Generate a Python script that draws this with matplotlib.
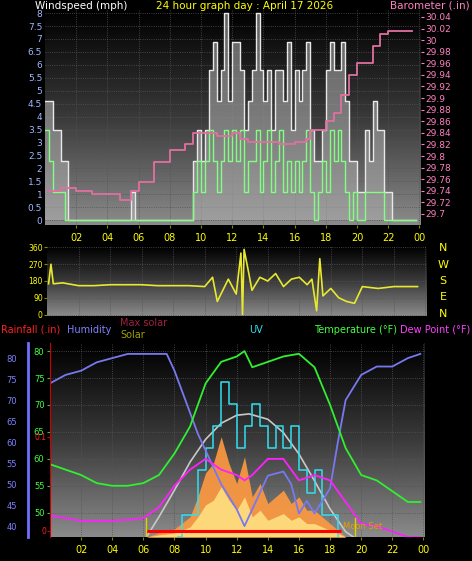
import numpy as np
import matplotlib
matplotlib.use("Agg")
import matplotlib.pyplot as plt
from matplotlib.colors import LinearSegmentedColormap

W, H = 472, 561
# ---------------- data ----------------
gust = [4.6,4.6,3.5,3.5,2.3,2.3,0,0] + [0]*14 + [1.1,0] + [0]*14 + \
       [2.3,3.5,2.3,3.5,5.8,6.9,4.6,5.8,8,4.6,6.9,6.9,5.8,3.5,4.6,5.8,8,5.8,4.6,5.8,
        3.5,5.8,5.8,4.6,6.9,3.5,5.8,4.6,5.8,6.9,3.5,2.3,2.3,3.5,5.8,6.9,5.8,5.8,6.9,4.6,
        2.3,2.3,1.1,1.1,3.5,2.3,4.6,3.5,3.5,1.1,1.1,0,0,0,0,0,0,0]
avg = [3.5,2.3,1.1,1.1,1.1,0,0,0] + [0]*14 + [0,0] + [0]*14 + \
      [1.1,2.3,1.1,2.3,3.5,2.3,1.1,2.3,3.5,2.3,3.5,2.3,3.5,1.1,2.3,2.3,3.5,1.1,2.3,3.5,
       1.1,2.3,3.5,1.1,2.3,1.1,2.3,1.1,2.3,3.5,1.1,0,1.1,2.3,1.1,3.5,2.3,3.5,2.3,1.1,
       0,1.1,0,0,1.1,1.1,1.1,1.1,1.1,0,0,0,0,0,0,0,0,0]
wind_t = [i * 0.25 for i in range(len(gust))]

baro_t = [0.2,1,2,3,4,4.8,5.5,6,7,8,9,9.5,10,11,12,12.5,13,14,15,16,16.7,17,18,18.5,19,19.5,20,21,21.5,22,23.5]
baro = [29.74,29.745,29.74,29.735,29.735,29.725,29.74,29.755,29.79,29.81,29.82,29.84,29.84,29.835,29.84,
        29.83,29.825,29.825,29.82,29.825,29.83,29.845,29.86,29.875,29.905,29.94,29.96,29.99,30.01,30.015,30.015]

dir_t = [0.1,0.25,0.4,1,2,3,4,5,6,7,8,9,10,10.5,10.8,11.5,12,12.3,12.4,12.5,12.8,13,13.5,14,14.5,15,15.5,16,16.5,16.8,17.1,17.3,17.5,18,18.5,19,19.5,20,21,22,23.5]
wdir = [165,270,165,170,155,155,160,160,160,155,155,155,150,200,70,190,110,330,0,350,220,130,200,180,220,150,190,200,160,190,20,300,100,140,90,70,60,150,140,150,150]

hour = [0,1,2,3,4,5,6,7,8,9,10,11,12,12.5,13,14,15,16,17,18,19,20,21,22,23,23.8]
temp = [59,58,57,55.5,55,55,55.5,57,61,66,74,78,79,80,77,78,79,79.5,77,70,62,57,56,54,52,52]
dew = [49.5,49,48.5,48.5,48.5,48.7,49,51,55,58,60,58,57,56,57,60,60,56,57,56,52,48,47.5,46.5,45.5,45.5]
hum_t = [0,0.5,1,2,3,4,5,7.5,8,9,9.5,10,11,12,12.5,13,14,15,15.5,16,16.5,17,18,18.5,19,20,21,22,23,23.8]
hum = [74,75,76,77,79,80,81,81,77,67,62,58,50,44,40,44,52,53,50,43,46,43,49,60,70,76,78,78,80,81]
uv_t = [8.2,8.5,9,9.5,10,10.5,11,11.5,12,12.5,13,13.5,14,14.5,15,15.5,16,16.5,17,17.5,18,18.5]
uv = [0,1,1,3,4,5,7,6,4,5,6,5,4,5,4,5,3,2,3,1,1,0]
maxsol_t = [6.2,7,8,9,10,11,12,12.8,14,15,16,17,18,19,19.5]
maxsol = [0,150,350,560,730,850,910,920,880,780,620,420,210,40,0]
sol_t = [6.2,7,8,9,9.5,10,10.5,11,11.5,12,12.5,13,13.5,14,14.5,15,15.5,16,16.5,17,17.5,18,18.5,19]
sol = [0,30,60,150,300,480,550,750,550,400,600,300,400,250,300,350,250,300,200,200,150,100,50,0]
xticks = [2,4,6,8,10,12,14,16,18,20,22,24]
xlabels = ["02","04","06","08","10","12","14","16","18","20","22","00"]

# ---------------- figure ----------------
fig = plt.figure(figsize=(W/100, H/100), dpi=100, facecolor="black")
FS = 7
bgcmap = LinearSegmentedColormap.from_list("bg", ["#000000", "#3a3a3a", "#8a8a8a"])

def pax(l, t, r, b):
    return fig.add_axes([l/W, 1-b/H, (r-l)/W, (b-t)/H])

def bg(ax):
    ax.imshow(np.linspace(0, 1, 100).reshape(-1, 1), cmap=bgcmap, aspect="auto",
              extent=[0, 1, 0, 1], transform=ax.transAxes, zorder=0)
    ax.set_facecolor("black")
    for s in ax.spines.values():
        s.set_visible(False)
    ax.grid(True, color="#555555", linestyle=":", linewidth=0.6)

def xaxis(ax, show=True):
    ax.set_xlim(0, 24.1)
    ax.set_xticks(xticks)
    if show:
        ax.set_xticklabels(xlabels, color="yellow", fontsize=FS)
    else:
        ax.set_xticklabels([])
    ax.tick_params(axis="x", colors="#888800", length=2, labelcolor="yellow")

# ---- top panel ----
ax1 = pax(45, 10, 421, 225)
bg(ax1)
xaxis(ax1)
ax1.set_ylim(-0.19, 8.12)
ax1.set_yticks([0,0.5,1,1.5,2,2.5,3,3.5,4,4.5,5,5.5,6,6.5,7,7.5,8])
ax1.set_yticklabels(["0","0.5","1","1.5","2","2.5","3","3.5","4","4.5","5","5.5","6","6.5","7","7.5","8"],
                    color="#9fb8ff", fontsize=FS-0.5)
ax1.tick_params(axis="y", length=0, pad=2)
ax1.fill_between(wind_t, gust, step="post", color="#b0b0b0", alpha=0.55, zorder=2, linewidth=0)
ax1.step(wind_t, gust, where="post", color="#e8e8e8", linewidth=1.0, zorder=3)
ax1.step(wind_t, avg, where="post", color="#80ff80", linewidth=1.0, zorder=4)
ax1b = ax1.twinx()
ax1b.set_ylim(29.681, 30.052)
ax1b.set_yticks(np.round(np.arange(29.70, 30.041, 0.02), 2))
ax1b.set_yticklabels([f"{v:.2f}".rstrip("0").rstrip(".") for v in np.arange(29.70, 30.041, 0.02)],
                     color="#ff80c0", fontsize=FS-0.5)
ax1b.tick_params(axis="y", length=2, colors="#ff80c0", labelcolor="#ff80c0", pad=1)
for s in ax1b.spines.values():
    s.set_visible(False)
ax1b.step(baro_t, baro, where="post", color="#e070a0", linewidth=1.3, zorder=5)
fig.text(35/W, 1-6/H, "Windspeed (mph)", color="white", fontsize=FS+0.5, va="center")
fig.text(245/W, 1-6/H, "24 hour graph day : April 17 2026", color="yellow", fontsize=FS+0.5, va="center", ha="center")
fig.text(470/W, 1-6/H, "Barometer (.in)", color="#ff80c0", fontsize=FS+0.5, va="center", ha="right")

# ---- middle panel ----
ax2 = pax(47, 246, 427, 316)
bg(ax2)
xaxis(ax2, show=False)
ax2.tick_params(axis="x", length=0)
ax2.set_ylim(-8, 368)
ax2.set_yticks([0,90,180,270,360])
ax2.set_yticklabels(["0","90","180","270","360"], color="yellow", fontsize=FS-1.5)
ax2.tick_params(axis="y", length=2, colors="#888800", labelcolor="yellow", pad=1)
ax2.plot(dir_t, wdir, color="#e8e830", linewidth=1.2, zorder=3)
for i, c in enumerate(["N", "W", "S", "E", "N"]):
    fig.text(443/W, 1-(248 + i*16.5)/H, c, color="yellow", fontsize=FS+1, ha="center", va="center")

# ---- bottom panel ----
ax3 = pax(50, 343, 425, 537)
bg(ax3)
xaxis(ax3)
ax3.set_ylim(45.5, 81.5)
ax3.yaxis.tick_right()
ax3.set_yticks([50,55,60,65,70,75,80])
ax3.set_yticklabels(["50","55","60","65","70","75","80"], color="#40ff40", fontsize=FS-1)
ax3.tick_params(axis="y", length=2, colors="#40c040", labelcolor="#40ff40", pad=2)
ax3.axvline(24.1, color="#888888", linewidth=1)

# solar & max solar
axs = ax3.twinx()
axs.set_ylim(0, 1450); axs.axis("off")
axs.fill_between(sol_t, sol, color="#ff9a40", alpha=0.9, linewidth=0, zorder=1)
axs.fill_between(sol_t, [v*0.5 for v in sol], color="#ffe080", alpha=0.9, linewidth=0, zorder=1)
axs.plot(maxsol_t, maxsol, color="#c8c8c8", linewidth=1.2, zorder=2)
# UV
axu = ax3.twinx()
axu.set_ylim(0, 8.75); axu.axis("off")
axu.step(uv_t, uv, where="post", color="#30e0f0", linewidth=1.1)
# humidity
axh = ax3.twinx()
axh.set_ylim(37.4, 83.6)
axh.yaxis.tick_left()
axh.spines["left"].set_visible(True)
axh.spines["left"].set_position(("outward", 16))
axh.spines["left"].set_color("#7070ff")
axh.spines["left"].set_linewidth(2)
for k in ["right", "top", "bottom"]:
    axh.spines[k].set_visible(False)
axh.set_yticks([40,45,50,55,60,65,70,75,80])
axh.set_yticklabels(["40","45","50","55","60","65","70","75","80"], color="#8080ff", fontsize=FS-1)
axh.tick_params(axis="y", left=False, right=False, labelleft=True, labelright=False, pad=4)
axh.plot(hum_t, hum, color="#7878f0", linewidth=1.3)
# temp & dew
axt = ax3.twinx()
axt.set_ylim(45.5, 81.5); axt.axis("off")
axt.plot(hour, temp, color="#30f030", linewidth=1.3)
axt.plot(hour, dew, color="#ff20ff", linewidth=1.3)
# rain
axr = ax3.twinx()
axr.set_ylim(-0.0064, 0.2)
axr.yaxis.tick_left()
axr.spines["left"].set_visible(True)
axr.spines["left"].set_color("#cc0000")
for k in ["right", "top", "bottom"]:
    axr.spines[k].set_visible(False)
axr.set_yticks([0, 0.1])
axr.set_yticklabels(["0", "0.1"], color="#ff2020", fontsize=FS-1.5)
axr.tick_params(axis="y", length=2, colors="#cc0000", labelcolor="#ff2020", pad=0.5)
axr.plot([6.2, 18.7], [0, 0], color="#ff0000", linewidth=2.2, solid_capstyle="butt")
axr.axvline(6.2, ymax=0.1, color="#e0d000", linewidth=1)
axr.axvline(19.6, ymax=0.1, color="#e0d000", linewidth=1)
axr.text(18.8, 0.0, "Moon Set", color="#e0a000", fontsize=FS-1, va="bottom")

LF = FS
fig.text(1/W, 1-330/H, "Rainfall (.in)", color="#ff2020", fontsize=LF, va="center")
fig.text(67/W, 1-330/H, "Humidity", color="#8080ff", fontsize=LF, va="center")
fig.text(120/W, 1-323/H, "Max solar", color="#a02040", fontsize=LF, va="center")
fig.text(120/W, 1-335/H, "Solar", color="#a0a000", fontsize=LF, va="center")
fig.text(256/W, 1-330/H, "UV", color="#30e0f0", fontsize=LF, va="center", ha="center")
fig.text(397/W, 1-330/H, "Temperature (°F)", color="#40ff40", fontsize=LF, va="center", ha="right")
fig.text(470/W, 1-330/H, "Dew Point (°F)", color="#ff40ff", fontsize=LF, va="center", ha="right")

fig.savefig("out.png", dpi=100, facecolor="black")
